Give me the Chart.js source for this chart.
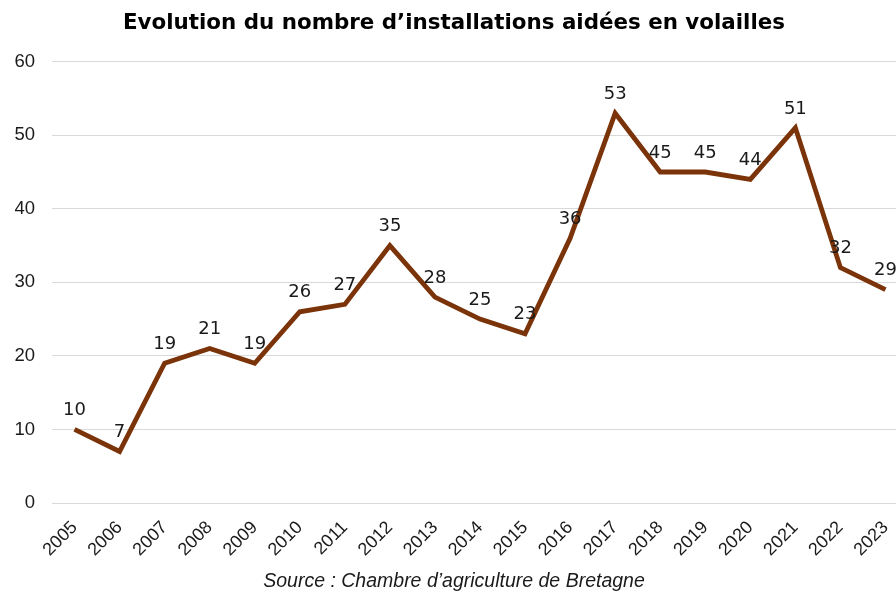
<!DOCTYPE html>
<html>
<head>
<meta charset="utf-8">
<script src="https://cdn.jsdelivr.net/npm/chart.js@4/dist/chart.umd.min.js"></script>
<style>
    html, body { margin: 0; padding: 0; background: #fff; overflow: hidden; }
    #wrap { position: relative; width: 912px; height: 593px; }
</style>
</head>
<body>
<div id="wrap"><canvas id="chart"></canvas></div>
<script>
const years = ['2005', '2006', '2007', '2008', '2009', '2010', '2011', '2012', '2013', '2014',
    '2015', '2016', '2017', '2018', '2019', '2020', '2021', '2022', '2023'];
const installations = [10, 7, 19, 21, 19, 26, 27, 35, 28, 25, 23, 36, 53, 45, 45, 44, 51, 32, 29];
const yTicks = [0, 10, 20, 30, 40, 50, 60];

const titleText = 'Evolution du nombre d\u2019installations aidées en volailles';
const sourceText = 'Source : Chambre d\u2019agriculture de Bretagne';

// simple value labels above each point
const valueLabels = {
    id: 'valueLabels',
    afterDatasetsDraw(chart) {
        const ctx = chart.ctx;
        const meta = chart.getDatasetMeta(0);
        ctx.save();
        ctx.font = '18px "DejaVu Sans"';
        ctx.fillStyle = '#1a1a1a';
        ctx.textAlign = 'center';
        ctx.textBaseline = 'middle';
        meta.data.forEach((pt, i) => {
            ctx.fillText(String(installations[i]), pt.x, pt.y - 19);
        });
        ctx.restore();
    },
};

new Chart(document.getElementById('chart'), {
    type: 'line',
    data: {
        labels: years,
        datasets: [{
            data: installations,
            borderColor: '#7b3409',
            borderWidth: 4.8,
            pointRadius: 0,
            tension: 0,
            fill: false,
        }],
    },
    options: {
        responsive: true,
        maintainAspectRatio: false,
        animation: false,
        layout: { padding: { left: 0, right: 4, top: 0, bottom: 0 } },
        plugins: {
            legend: { display: false },
            tooltip: { enabled: false },
            title: {
                display: true,
                text: titleText,
                color: '#000',
                font: { family: '"DejaVu Sans"', size: 21.4, weight: 'bold' },
                padding: { top: 11, bottom: 25 },
            },
            subtitle: {
                display: true,
                position: 'bottom',
                text: sourceText,
                color: '#1a1a1a',
                font: { family: '"Liberation Sans"', size: 19.5, style: 'italic' },
                padding: { top: 0, bottom: 0 },
            },
        },
        scales: {
            x: {
                offset: true,
                grid: { display: false },
                border: { display: false },
                afterFit: (s) => { s.height = 66.6; },
                ticks: {
                    color: '#1a1a1a',
                    font: { family: '"Liberation Sans"', size: 18 },
                    maxRotation: 45,
                    minRotation: 45,
                    autoSkip: false,
                    padding: 6,
                },
            },
            y: {
                min: 0,
                max: 60,
                afterBuildTicks: (s) => { s.ticks = yTicks.map((v) => ({ value: v })); },
                afterFit: (s) => { s.width = 52; },
                grid: { color: '#d9d9d9', lineWidth: 1, drawTicks: false },
                border: { display: false },
                ticks: {
                    color: '#1a1a1a',
                    font: { family: '"Liberation Sans"', size: 18.5 },
                    padding: 17,
                },
            },
        },
    },
    plugins: [valueLabels],
});
</script>
</body>
</html>
